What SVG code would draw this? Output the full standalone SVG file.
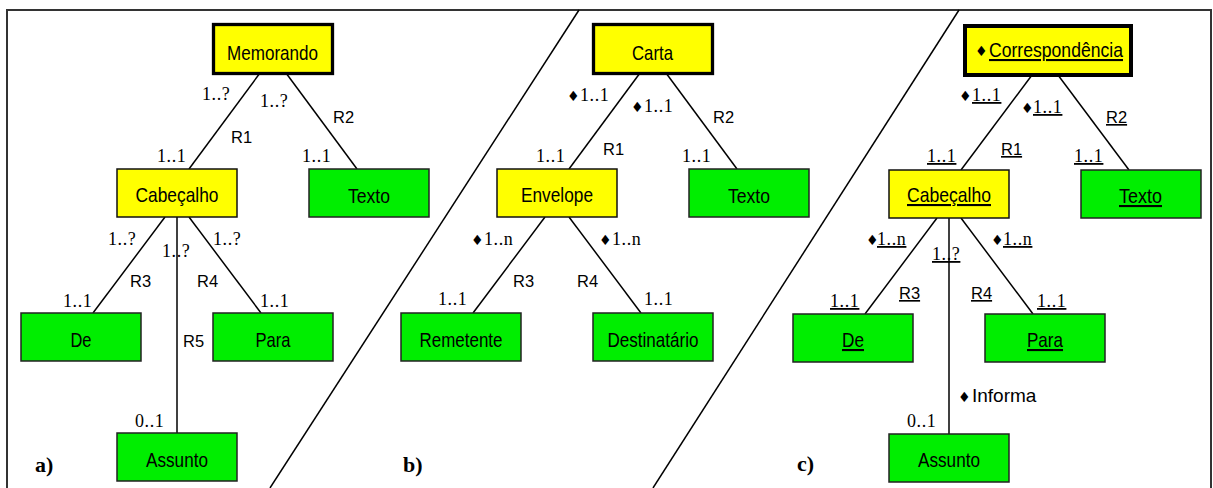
<svg xmlns="http://www.w3.org/2000/svg" width="1213" height="488" viewBox="0 0 1213 488">
<style>
.y{fill:#ffff00;stroke:#111;stroke-width:1.5}
.g{fill:#00ee00;stroke:#222;stroke-width:1.5}
.thick{fill:#ffff00;stroke:#000;stroke-width:3.3}
.n{font-family:"Liberation Sans",Arial,sans-serif;font-size:21px;fill:#000;text-anchor:middle}
.c{font-family:"Liberation Serif","Times New Roman",serif;font-size:18px;letter-spacing:0.6px;fill:#000}
.r{font-family:"Liberation Sans",Arial,sans-serif;font-size:16.5px;fill:#000}
.d{font-family:"DejaVu Sans",sans-serif;font-size:14px;fill:#000}
.p{font-family:"Liberation Serif","Times New Roman",serif;font-size:22px;font-weight:bold;fill:#000}
.u{text-decoration:underline}
.ln{stroke:#000;stroke-width:1.5;fill:none}
</style>
<rect x="7" y="10" width="1204" height="490" fill="#fff" stroke="#333" stroke-width="2"/>
<g id="connectors">
<line class="ln" x1="579" y1="10" x2="270" y2="488"/>
<line class="ln" x1="959" y1="10" x2="653" y2="488"/>
<line class="ln" x1="260" y1="73" x2="189" y2="169"/>
<line class="ln" x1="286" y1="73" x2="357" y2="169"/>
<line class="ln" x1="165" y1="217" x2="93" y2="313"/>
<line class="ln" x1="177" y1="217" x2="177" y2="433"/>
<line class="ln" x1="189" y1="217" x2="261" y2="313"/>
<line class="ln" x1="640" y1="73" x2="569" y2="169"/>
<line class="ln" x1="666" y1="73" x2="737" y2="169"/>
<line class="ln" x1="545" y1="217" x2="473" y2="313"/>
<line class="ln" x1="569" y1="217" x2="641" y2="313"/>
<line class="ln" x1="1032" y1="75" x2="961" y2="170"/>
<line class="ln" x1="1058" y1="75" x2="1129" y2="170"/>
<line class="ln" x1="937" y1="218" x2="865" y2="314"/>
<line class="ln" x1="949" y1="218" x2="949" y2="434"/>
<line class="ln" x1="961" y1="218" x2="1033" y2="314"/>
</g>
<g id="labels">
<text class="c" x="202" y="100">1..?</text>
<text class="c" x="260" y="107">1..?</text>
<text class="c" x="157" y="162">1..1</text>
<text class="c" x="302" y="162">1..1</text>
<text class="c" x="108" y="245">1..?</text>
<text class="c" x="162" y="257">1..?</text>
<text class="c" x="213" y="245">1..?</text>
<text class="c" x="63" y="307">1..1</text>
<text class="c" x="260" y="307">1..1</text>
<text class="c" x="135" y="427">0..1</text>
<text class="r" x="231" y="143">R1</text>
<text class="r" x="333" y="123">R2</text>
<text class="r" x="130" y="287">R3</text>
<text class="r" x="197" y="287">R4</text>
<text class="r" x="183" y="347">R5</text>

<text class="d" x="567" y="101">♦</text><text class="c" x="580" y="101">1..1</text>
<text class="d" x="631" y="112">♦</text><text class="c" x="644" y="112">1..1</text>
<text class="c" x="536" y="162">1..1</text>
<text class="c" x="682" y="162">1..1</text>
<text class="d" x="471" y="245">♦</text><text class="c" x="484" y="245">1..n</text>
<text class="d" x="599" y="245">♦</text><text class="c" x="612" y="245">1..n</text>
<text class="c" x="438" y="305">1..1</text>
<text class="c" x="644" y="305">1..1</text>
<text class="r" x="603" y="155">R1</text>
<text class="r" x="713" y="123">R2</text>
<text class="r" x="513" y="287">R3</text>
<text class="r" x="577" y="287">R4</text>

<text class="d" x="959" y="101">♦</text><text class="c u" x="972" y="101">1..1</text>
<text class="d" x="1021" y="113">♦</text><text class="c u" x="1033" y="113">1..1</text>
<text class="c u" x="927" y="162">1..1</text>
<text class="c u" x="1074" y="162">1..1</text>
<text class="r u" x="1001" y="155">R1</text>
<text class="r u" x="1106" y="123">R2</text>
<text class="d" x="866" y="245">♦</text><text class="c u" x="877" y="245">1..n</text>
<text class="c u" x="932" y="260">1..?</text>
<text class="d" x="991" y="245">♦</text><text class="c u" x="1003" y="245">1..n</text>
<text class="r u" x="899" y="299">R3</text>
<text class="r u" x="971" y="299">R4</text>
<text class="c u" x="830" y="307">1..1</text>
<text class="c u" x="1037" y="307">1..1</text>
<text class="d" x="958" y="402">♦</text><text class="r" x="972" y="402" style="font-size:19px">Informa</text>
<text class="c" x="907" y="427">0..1</text>

<text class="p" x="35" y="472">a)</text>
<text class="p" x="403" y="472">b)</text>
<text class="p" x="797" y="471">c)</text>
</g>
<g id="memorando"><rect class="thick" x="213.5" y="24.5" width="119" height="49"/><text class="n" x="272.5" y="60" textLength="91" lengthAdjust="spacingAndGlyphs">Memorando</text></g>
<g id="cabecalho-a"><rect class="y" x="117" y="169" width="120" height="48"/><text class="n" x="177" y="202" textLength="83" lengthAdjust="spacingAndGlyphs">Cabeçalho</text></g>
<g id="texto-a"><rect class="g" x="309" y="169" width="120" height="48"/><text class="n" x="369" y="203" textLength="42" lengthAdjust="spacingAndGlyphs">Texto</text></g>
<g id="de-a"><rect class="g" x="21" y="313" width="120" height="48"/><text class="n" x="81" y="347" textLength="21" lengthAdjust="spacingAndGlyphs">De</text></g>
<g id="para-a"><rect class="g" x="213" y="313" width="120" height="48"/><text class="n" x="273" y="347" textLength="35" lengthAdjust="spacingAndGlyphs">Para</text></g>
<g id="assunto-a"><rect class="g" x="117" y="433" width="120" height="48"/><text class="n" x="177" y="467" textLength="62" lengthAdjust="spacingAndGlyphs">Assunto</text></g>

<g id="carta"><rect class="thick" x="593.5" y="24.5" width="119" height="49"/><text class="n" x="652.5" y="60" textLength="41" lengthAdjust="spacingAndGlyphs">Carta</text></g>
<g id="envelope"><rect class="y" x="497" y="169" width="120" height="48"/><text class="n" x="557" y="202" textLength="72" lengthAdjust="spacingAndGlyphs">Envelope</text></g>
<g id="texto-b"><rect class="g" x="689" y="169" width="120" height="48"/><text class="n" x="749" y="203" textLength="42" lengthAdjust="spacingAndGlyphs">Texto</text></g>
<g id="remetente"><rect class="g" x="401" y="313" width="120" height="48"/><text class="n" x="461" y="347" textLength="83" lengthAdjust="spacingAndGlyphs">Remetente</text></g>
<g id="destinatario"><rect class="g" x="593" y="313" width="120" height="48"/><text class="n" x="653" y="347" textLength="91" lengthAdjust="spacingAndGlyphs">Destinatário</text></g>

<g id="correspondencia"><rect class="thick" x="965" y="26" width="166" height="49" style="stroke-width:4"/><text class="d" x="975" y="56">♦</text><text class="n u" x="1056" y="57" textLength="134" lengthAdjust="spacingAndGlyphs">Correspondência</text></g>
<g id="cabecalho-c"><rect class="y" x="889" y="170" width="120" height="48"/><text class="n u" x="949" y="202" textLength="84" lengthAdjust="spacingAndGlyphs">Cabeçalho</text></g>
<g id="texto-c"><rect class="g" x="1081" y="170" width="120" height="48"/><text class="n u" x="1140.5" y="203" textLength="43" lengthAdjust="spacingAndGlyphs">Texto</text></g>
<g id="de-c"><rect class="g" x="793" y="314" width="120" height="48"/><text class="n u" x="853" y="347" textLength="22" lengthAdjust="spacingAndGlyphs">De</text></g>
<g id="para-c"><rect class="g" x="985" y="314" width="120" height="48"/><text class="n u" x="1045" y="347" textLength="36" lengthAdjust="spacingAndGlyphs">Para</text></g>
<g id="assunto-c"><rect class="g" x="889" y="434" width="120" height="48"/><text class="n" x="949" y="467" textLength="62" lengthAdjust="spacingAndGlyphs">Assunto</text></g>
</svg>
